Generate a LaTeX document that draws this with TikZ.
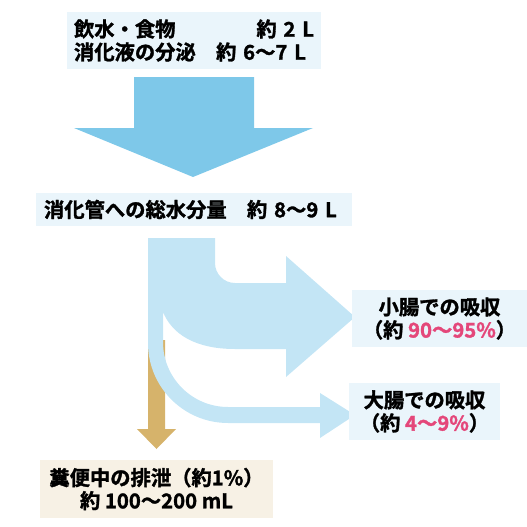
\documentclass[tikz,border=0pt]{standalone}
\usepackage{fontspec}
\setmainfont{Noto Sans CJK JP}[UprightFont=* Bold, FakeBold=1.5]
\definecolor{intakeblue}{HTML}{7EC8E9}
\definecolor{flowblue}{HTML}{C3E5F5}
\definecolor{boxblue}{HTML}{EAF5FB}
\definecolor{fecesbrown}{HTML}{D6B36B}
\definecolor{fecesbox}{HTML}{F7F1E5}
\definecolor{ratepink}{HTML}{E4477A}
\tikzset{
  valuebox/.style={fill=boxblue, inner sep=0pt, font=\fontsize{20.3}{23}\selectfont},
  rate/.style={text=ratepink}
}
\begin{document}
\begin{tikzpicture}[x=1pt,y=-1pt]
  \useasboundingbox (0,0) rectangle (527,527);

  % Intake box
  \node [valuebox, minimum width=254pt, minimum height=57pt, text width=240pt, inner xsep=7pt, align=left] (intake) at (194,40.5)
    {飲水・食物\hfill 約 2 L\\消化液の分泌　約 6〜7 L};%

  % Drawing big arrow intake -> total
  \fill [intakeblue] (134,77) -- (254,77) -- (254,128) -- (313,128) -- (193,177) -- (74,128) -- (134,128) -- cycle;%

  % Total box
  \node [valuebox, minimum width=316pt, minimum height=33pt, text width=300pt, inner xsep=8pt, align=left] (total) at (194,209.5)
    {消化管への総水分量　約 8〜9 L};%

  % Drawing feces arrow (under the flows)
  \fill [fecesbrown] (148,340) -- (165,340) -- (165,429) -- (176,429) -- (156.5,449) -- (137,429) -- (148,429) -- cycle;%

  % Drawing flows to small and large intestine
  \fill [flowblue] (148,238) -- (215,238) -- (215,263) .. controls (215,274) and (224,283) .. (235,283)
    -- (286,283) -- (286,256) -- (355,317) -- (286,377) -- (286,349) -- (235,349)
    .. controls (195,349) and (172,334) .. (163,312)
    -- (163,342) .. controls (163,377.9) and (192.1,407) .. (228,407)
    -- (320,407) -- (320,393) -- (355,415) -- (320,438) -- (320,423) -- (228,423)
    .. controls (183.8,423) and (148,387.2) .. (148,343) -- cycle;%

  % Small intestine box
  \node [valuebox, minimum width=175pt, minimum height=57pt, align=center] (small) at (439.5,318.5)
    {小腸での吸収\\（約 \textcolor{ratepink}{90〜95\%}）};%

  % Large intestine box
  \node [valuebox, minimum width=151pt, minimum height=57pt, align=center] (large) at (424.5,411.5)
    {大腸での吸収\\（約 \textcolor{ratepink}{4〜9\%}）};%

  % Feces box
  \node [valuebox, fill=fecesbox, minimum width=233pt, minimum height=58pt, align=center] (feces) at (156.5,489)
    {糞便中の排泄（約1\%）\\約 100〜200 mL};%
\end{tikzpicture}
\end{document}
